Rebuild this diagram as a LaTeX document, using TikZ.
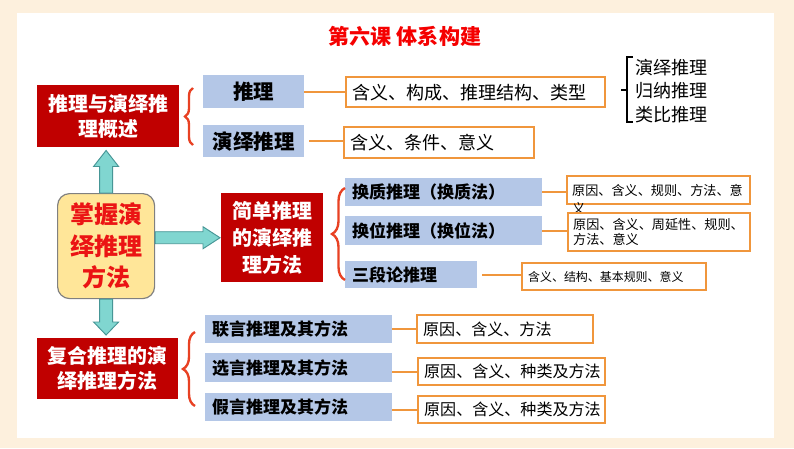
\documentclass[tikz,border=0pt]{standalone}
\usepackage{fontspec}
\usepackage{tikz}
\usetikzlibrary{calc,decorations.pathreplacing}
\setmainfont{Noto Sans CJK SC}
\newfontfamily\hei{Noto Sans CJK SC}
\newfontfamily\song{Noto Sans CJK SC}
\newfontfamily\kai{Noto Sans CJK SC}

\definecolor{cream}{RGB}{253,240,221}
\definecolor{titlered}{RGB}{245,0,0}
\definecolor{darkred}{RGB}{192,0,0}
\definecolor{boxblue}{RGB}{180,199,231}
\definecolor{orng}{RGB}{240,150,60}
\definecolor{bracered}{RGB}{232,65,35}
\definecolor{padyellow}{RGB}{255,230,153}
\definecolor{padedge}{RGB}{128,128,128}
\definecolor{arrowteal}{RGB}{128,214,208}
\definecolor{arrowedge}{RGB}{70,150,150}

\tikzset{
  titletext/.style={text=titlered, font=\hei\bfseries\fontsize{18}{20}\selectfont},
  redbox/.style={fill=darkred, text=white, anchor=north west, inner sep=0, align=center,
    font=\hei\bfseries\fontsize{17}{21.3}\selectfont},
  bluebox/.style={fill=boxblue, anchor=north west, inner xsep=0.21cm, inner ysep=0, align=left,
    font=\hei\bfseries\fontsize{14.5}{17}\selectfont},
  bigtext/.style={font=\hei\bfseries\fontsize{17.5}{20}\selectfont},
  obox/.style={draw=orng, line width=2pt, fill=white, anchor=north west, inner xsep=0.18cm,
    inner ysep=0, align=left, font=\song\fontsize{15.4}{18}\selectfont},
  smalltext/.style={font=\song\fontsize{11.2}{12.8}\selectfont},
  midtext/.style={font=\song\fontsize{13.7}{16}\selectfont},
  kaitext/.style={align=left, inner sep=0, font=\kai\fontsize{15.4}{20}\selectfont},
  centerpad/.style={fill=padyellow, draw=padedge, line width=1pt, rounded corners=0.36cm,
    anchor=north west, inner sep=0, align=center, text={rgb,255:red,235;green,20;blue,20},
    font=\hei\bfseries\fontsize{20.5}{27}\selectfont},
  oline/.style={orng, line width=2pt},
  redbrace/.style={bracered, line width=2pt, decorate, decoration={brace, amplitude=#1}},
  tealarrow/.style={fill=arrowteal, draw=arrowedge, line width=0.8pt, line join=miter}
}

\begin{document}
\begin{tikzpicture}[x=0.03cm, y=-0.03cm]
 % background
 \fill[cream] (0,0) rectangle (794,448);
 \fill[white] (17,13) rectangle (774,438);
 \node[titletext] (title) at (405,36) {第六课 体系构建};

 % 推理与演绎推理概述
 \node[redbox, minimum width=4.26cm, minimum height=1.86cm] (gai) at (37,85) {推理与演绎推\\理概述};
 \node[bluebox, bigtext, minimum width=3.03cm, minimum height=0.99cm] (tl) at (203,75) {推理};
 \node[bluebox, bigtext, minimum width=3.03cm, minimum height=0.96cm] (yy) at (203,125) {演绎推理};
 \node[obox, text width=7.41cm, minimum height=0.9cm] (tlc) at (345,76) {含义、构成、推理结构、类型};
 \node[obox, text width=5.34cm, minimum height=0.93cm] (yyc) at (343,126) {含义、条件、意义};
 \node[kaitext, anchor=west] (kinds) at (635,91) {演绎推理\\归纳推理\\类比推理};
 \draw[redbrace=0.24cm] (193,145) -- (193,88);
 \draw[line width=2.5pt] (633,57) -- (627,57) -- (627,122) -- (633,122) (621,90) -- (627,90);
 \draw[oline] (tl.east) -- (tl.east -| tlc.west);
 \draw[oline, shorten <=0.15cm] (yy.east) -- (yy.east -| yyc.west);

 % 掌握演绎推理方法
 \node[centerpad, minimum width=2.91cm, minimum height=3.15cm] (zhang) at (57,193) {掌握演\\绎推理\\方法};

 % 简单推理的演绎推理方法
 \node[redbox, minimum width=3.06cm, minimum height=2.67cm,
   font=\hei\bfseries\fontsize{17}{23}\selectfont] (jd) at (221,193) {简单推理\\的演绎推\\理方法};
 \node[bluebox, text width=5.49cm, minimum height=0.84cm] (hz) at (345,178) {换质推理（换质法）};
 \node[bluebox, text width=5.49cm, minimum height=0.87cm] (hw) at (345,216) {换位推理（换位法）};
 \node[bluebox, text width=3.54cm, minimum height=0.81cm] (sd) at (345,261) {三段论推理};
 \draw[redbrace=0.39cm] (345,280) -- (345,188);
 \node[obox, minimum width=5.49cm, minimum height=0.84cm] (hzc) at (566,175) {};
 \node[smalltext, font=\song\fontsize{11.2}{15.4}\selectfont, align=left, inner sep=0,
   anchor=north west] (hzt) at (572,184) {原因、含义、规则、方法、意\\义};
 \node[obox, smalltext, inner xsep=0.15cm, text width=5.16cm, minimum height=1.14cm] (hwc) at (567,212)
   {原因、含义、周延性、规则、\\方法、意义};
 \node[obox, text width=5.16cm, minimum height=0.81cm, font=\song\fontsize{10.2}{12}\selectfont] (sdc)
   at (521,262) {含义、结构、基本规则、意义};
 \draw[oline] (hz.east) -- (hz.east -| hzc.west);
 \draw[oline] (hw.east) -- (hw.east -| hwc.west);
 \draw[oline, shorten <=0.15cm] (sd.east) -- (sd.east -| sdc.west);

 % 复合推理的演绎推理方法
 \node[redbox, minimum width=4.23cm, minimum height=1.83cm] (fh) at (37,338) {复合推理的演\\绎推理方法};
 \node[bluebox, text width=5.19cm, minimum height=0.84cm] (ly) at (205,315) {联言推理及其方法};
 \node[bluebox, text width=5.19cm, minimum height=0.87cm] (xy) at (205,353) {选言推理及其方法};
 \node[bluebox, text width=5.19cm, minimum height=0.84cm] (jy) at (205,393) {假言推理及其方法};
 \draw[redbrace=0.36cm] (195,406) -- (195,332);
 \node[obox, midtext, text width=4.92cm, minimum height=0.84cm] (lyc) at (416,314) {原因、含义、方法};
 \node[obox, midtext, text width=5.25cm, minimum height=0.81cm] (xyc) at (417,357) {原因、含义、种类及方法};
 \node[obox, midtext, text width=5.25cm, minimum height=0.81cm] (jyc) at (417,395) {原因、含义、种类及方法};
 \draw[oline] (ly.east) -- (ly.east -| lyc.west);
 \draw[oline] (xy.east |- xyc.west) -- (xyc.west);
 \draw[oline] (jy.east |- jyc.west) -- (jyc.west);

 % block arrows
 \draw[tealarrow] ($(zhang.north)+(-6.5,0)$) -- ($(zhang.north |- gai.south)+(-6.5,19)$) -- ++(-6,0)
   -- ($(zhang.north |- gai.south)+(0,3)$) -- ($(zhang.north |- gai.south)+(12.5,19)$) -- ++(-6,0)
   -- ($(zhang.north)+(6.5,0)$) -- cycle;
 \coordinate (ra) at (zhang.east |- jd.west);
 \draw[tealarrow] ($(ra)+(0,-6)$) -- ($(jd.west)+(-18,-6)$) -- ++(0,-5) -- ($(jd.west)+(-1,0)$)
   -- ($(jd.west)+(-18,11)$) -- ++(0,-5) -- ($(ra)+(0,6)$) -- cycle;
 \draw[tealarrow] ($(zhang.south)+(-6.5,0)$) -- ($(zhang.south |- fh.north)+(-6.5,-16)$) -- ++(-6,0)
   -- ($(zhang.south |- fh.north)+(0,-3)$) -- ($(zhang.south |- fh.north)+(12.5,-16)$) -- ++(-6,0)
   -- ($(zhang.south)+(6.5,0)$) -- cycle;
\end{tikzpicture}
\end{document}
